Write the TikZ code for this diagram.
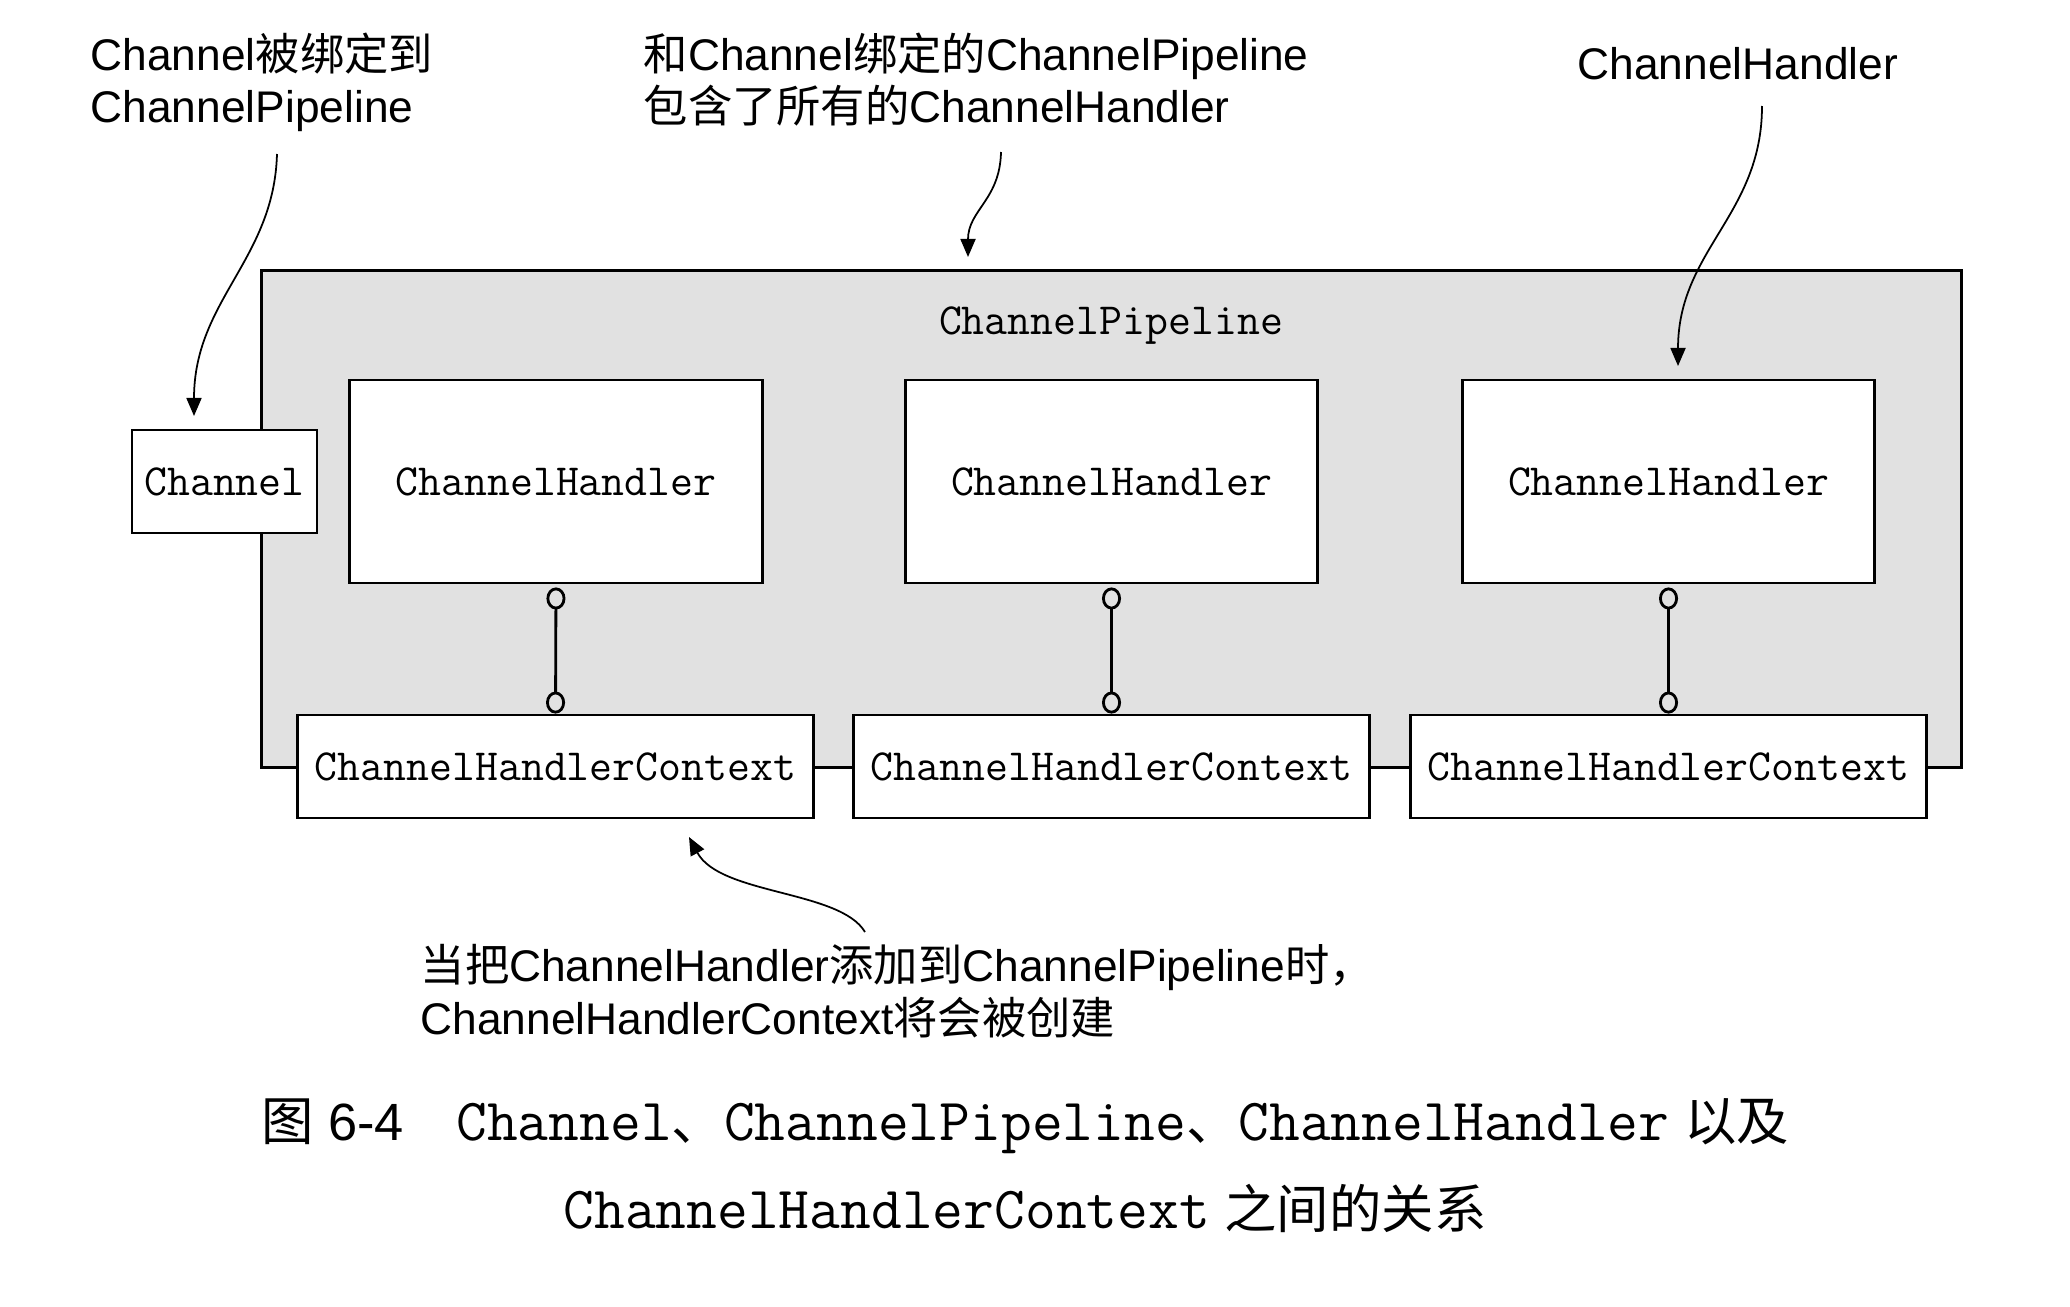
\documentclass[tikz,border=0pt]{standalone}
\usepackage{fontspec}
\setmainfont{Liberation Sans}
\newfontfamily\zhfont{Noto Sans CJK SC}
\newcommand{\zh}[1]{{\zhfont #1}}
\newcommand{\capmono}[1]{{\fontsize{17}{25}\selectfont\ttfamily #1}}
\usetikzlibrary{arrows.meta,positioning}

\definecolor{pipegray}{RGB}{225,225,225}

\tikzset{
  box/.style={draw, line width=0.8pt, fill=white, inner sep=0pt, font=\fontsize{12.66}{14}\selectfont\ttfamily},
  handlerbox/.style={box, minimum width=4.12cm, minimum height=2.03cm},
  ctxbox/.style={box, minimum width=5.15cm, minimum height=1.03cm},
  note/.style={font=\fontsize{12.6}{15}\selectfont, align=left, inner sep=0pt},
  pointer/.style={line width=0.5pt, -{Triangle[length=1.8mm,width=1.5mm]}},
  link/.style={line width=0.8pt, shorten <=0.3mm, {Circle[open,length=2.2mm,width=1.9mm]}-{Circle[open,length=2.2mm,width=1.9mm]}}
}

\begin{document}
\begin{tikzpicture}[x=0.01cm, y=-0.01cm]
  \useasboundingbox (0,0) rectangle (2070,1306);

  \node[draw, fill=pipegray, line width=0.8pt, inner sep=0pt, anchor=north west,
        minimum width=16.99cm, minimum height=4.97cm] (pipe) at (260,269) {};
  \node[font=\fontsize{12.66}{14}\selectfont\ttfamily] (pipelbl) at (1111,326) {ChannelPipeline};

  \node[box, minimum width=1.85cm, minimum height=1.03cm] (channel) at (224.5,481.5) {Channel};

  \node[handlerbox] (h1) at (556,481.5) {ChannelHandler};
  \node[handlerbox] (h2) at (1111.5,481.5) {ChannelHandler};
  \node[handlerbox] (h3) at (1668.5,481.5) {ChannelHandler};

  \node[ctxbox] (c1) at (555.5,766.5) {ChannelHandlerContext};
  \node[ctxbox] (c2) at (1111.5,766.5) {ChannelHandlerContext};
  \node[ctxbox] (c3) at (1668.5,766.5) {ChannelHandlerContext};

  \draw[link] (h1.south) -- (c1.north);
  \draw[link] (h2.south) -- (c2.north);
  \draw[link] (h3.south) -- (c3.north);

  \node[note, anchor=north west] (chnote) at (90,32) {Channel\zh{被绑定到}\\ChannelPipeline};
  \node[note, anchor=north west] (pipenote) at (643,32) {\zh{和}Channel\zh{绑定的}ChannelPipeline\\\zh{包含了所有的}ChannelHandler};
  \node[note, anchor=base west] (handlernote) at (1577,79) {ChannelHandler};
  \node[note, anchor=north west] (ctxnote) at (420,944) {\zh{当把}ChannelHandler\zh{添加到}ChannelPipeline\zh{时，}\\ChannelHandlerContext\zh{将会被创建}};

  \coordinate (chfrom) at (277,154);
  \coordinate (chto) at (194,416);
  \coordinate (pipefrom) at (1001,152);
  \coordinate (pipeto) at (968,257);
  \coordinate (hfrom) at (1762,106);
  \coordinate (hto) at (1678,366);
  \coordinate (ctxfrom) at (865,932);
  \coordinate (ctxto) at (689,837);

  \draw[pointer] (chfrom) .. controls (274,260) and (194,300) .. (chto);
  \draw[pointer] (pipefrom) .. controls (1000,200) and (968,210) .. (pipeto);
  \draw[pointer] (hfrom) .. controls (1762,215) and (1678,250) .. (hto);
  \draw[pointer] (ctxfrom) .. controls (840,890) and (720,895) .. (ctxto);

  \node[align=center, inner sep=0pt, anchor=north, font=\fontsize{14.9}{25}\selectfont] (caption) at (1025,1098)
    {\zh{图} 6-4\hspace{1em}\capmono{Channel}\zh{、}\capmono{ChannelPipeline}\zh{、}\capmono{ChannelHandler} \zh{以及}\\
     \capmono{ChannelHandlerContext} \zh{之间的关系}};
\end{tikzpicture}
\end{document}
